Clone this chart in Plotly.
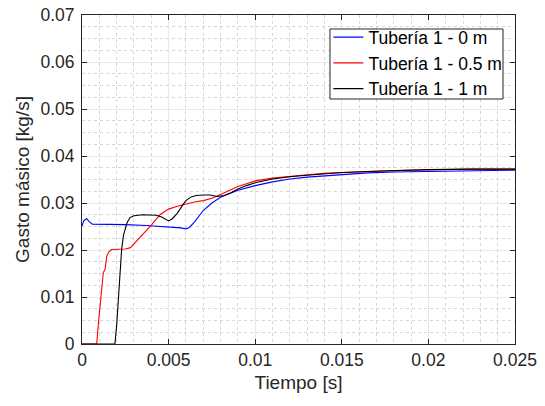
import plotly.graph_objects as go

# ---- data ----
t_0m = [0, 0.0001, 0.00027, 0.0004, 0.0006, 0.001, 0.0018, 0.0025, 0.0037, 0.0045, 0.0052,
        0.0057, 0.006, 0.0062, 0.0065, 0.007, 0.0075, 0.008, 0.009, 0.010, 0.011, 0.012,
        0.013, 0.014, 0.015, 0.0165, 0.018, 0.020, 0.0225, 0.025]
g_0m = [0.0251, 0.0262, 0.0267, 0.0261, 0.0255, 0.0255, 0.0255, 0.0254, 0.0252, 0.0250, 0.0249,
        0.0247, 0.0245, 0.0248, 0.0260, 0.0284, 0.0300, 0.0312, 0.0327, 0.0337, 0.0345, 0.0351,
        0.0355, 0.0358, 0.0361, 0.0364, 0.0366, 0.0367, 0.0369, 0.0370]

t_05m = [0, 0.00085, 0.00095, 0.00104, 0.00114, 0.00123, 0.00133, 0.00143, 0.00155, 0.00171,
         0.002, 0.0025, 0.0028, 0.003, 0.0035, 0.004, 0.0045, 0.005, 0.0055, 0.006, 0.0065,
         0.007, 0.0075, 0.008, 0.0085, 0.009, 0.0095, 0.010, 0.011, 0.012, 0.013, 0.014,
         0.015, 0.0165, 0.018, 0.020, 0.0225, 0.025]
g_05m = [0, 0, 0.0045, 0.0088, 0.0117, 0.0152, 0.0159, 0.0187, 0.0196, 0.0201,
         0.0201, 0.0202, 0.0205, 0.0213, 0.0232, 0.0253, 0.0275, 0.0287, 0.0293, 0.0298, 0.0302,
         0.0305, 0.0310, 0.0318, 0.0326, 0.0335, 0.0341, 0.0347, 0.0353, 0.0357, 0.0360, 0.0363,
         0.0365, 0.0367, 0.0369, 0.0371, 0.0372, 0.0372]

t_1m = [0, 0.0019, 0.002, 0.0021, 0.0022, 0.00229, 0.0024, 0.0026, 0.00277, 0.003, 0.0035,
        0.004, 0.0043, 0.0046, 0.0048, 0.005, 0.0052, 0.0055, 0.0058, 0.006, 0.0063, 0.0066,
        0.007, 0.0074, 0.0078, 0.0082, 0.0086, 0.009, 0.0095, 0.010, 0.011, 0.012, 0.013,
        0.014, 0.015, 0.0165, 0.018, 0.020, 0.0225, 0.025]
g_1m = [0, 0, 0.0039, 0.0095, 0.0152, 0.0202, 0.0232, 0.0258, 0.0269, 0.0273, 0.0275,
        0.0275, 0.0274, 0.0270, 0.0266, 0.0262, 0.0266, 0.0278, 0.0295, 0.0305, 0.0313, 0.0316,
        0.0317, 0.0317, 0.0314, 0.0316, 0.0322, 0.0330, 0.0337, 0.0343, 0.0351, 0.0356, 0.0359,
        0.0362, 0.0365, 0.0367, 0.0369, 0.0371, 0.0372, 0.0372]

series_names = ["Tubería 1 - 0 m", "Tubería 1 - 0.5 m", "Tubería 1 - 1 m"]
series_colors = ["#0000ff", "#ff0000", "#000000"]

x_ticks = [0, 0.005, 0.01, 0.015, 0.02, 0.025]
y_ticks = [0, 0.01, 0.02, 0.03, 0.04, 0.05, 0.06, 0.07]

fig = go.Figure()
for t, g, name, col in zip([t_0m, t_05m, t_1m], [g_0m, g_05m, g_1m], series_names, series_colors):
    fig.add_trace(go.Scatter(x=t, y=g, mode="lines", name=name,
                             line=dict(color=col, width=1.1)))

font_family = "Liberation Sans, Arial, sans-serif"
axis_common = dict(
    showline=True, linecolor="#262626", linewidth=1, mirror="ticks",
    ticks="inside", ticklen=5, tickcolor="#262626", tickwidth=1,
    showgrid=True, gridcolor="#e8e8e8", gridwidth=1, zeroline=False,
    automargin=False, ticklabeloverflow="allow",
    tickfont=dict(family=font_family, size=17.5, color="#262626"),
)

# legend frame (tight box like the reference), drawn above the traces
fig.add_shape(type="rect", xref="paper", yref="paper",
              x0=0.5727, x1=0.9723, y0=0.7447, y1=0.9574,
              line=dict(color="#262626", width=1), fillcolor="white", layer="above")

fig.update_layout(
    width=545, height=406,
    margin=dict(l=82, r=30, t=15, b=62),
    paper_bgcolor="white", plot_bgcolor="white",
    font=dict(family=font_family, color="#262626"),
    showlegend=True,
    legend=dict(x=0.569, y=0.987, xanchor="left", yanchor="top",
                bgcolor="rgba(0,0,0,0)", borderwidth=0,
                font=dict(family=font_family, size=17.5, color="#000000"),
                tracegroupgap=0, itemwidth=30),
    xaxis=dict(range=[0, 0.025], tickvals=x_ticks,
               ticktext=[f"{v:g}" for v in x_ticks],
               minor=dict(dtick=0.001, tick0=0, showgrid=True, gridcolor="#d6d6d6",
                          griddash="dot", gridwidth=1, ticks=""),
               title=dict(text="Tiempo [s]", font=dict(size=19), standoff=6),
               **axis_common),
    yaxis=dict(range=[0, 0.07], tickvals=y_ticks,
               ticktext=[f"{v:g}" for v in y_ticks],
               minor=dict(dtick=0.0025, tick0=0, showgrid=True, gridcolor="#d6d6d6",
                          griddash="dot", gridwidth=1, ticks=""),
               title=dict(text="Gasto másico [kg/s]", font=dict(size=19), standoff=5),
               ticklabelstandoff=3,
               **axis_common),
)

# remove the default 8px page margin so the figure sits at the window origin
fig.write_html("out.html", config={"displayModeBar": False},
               post_script="document.body.style.margin='0';")
